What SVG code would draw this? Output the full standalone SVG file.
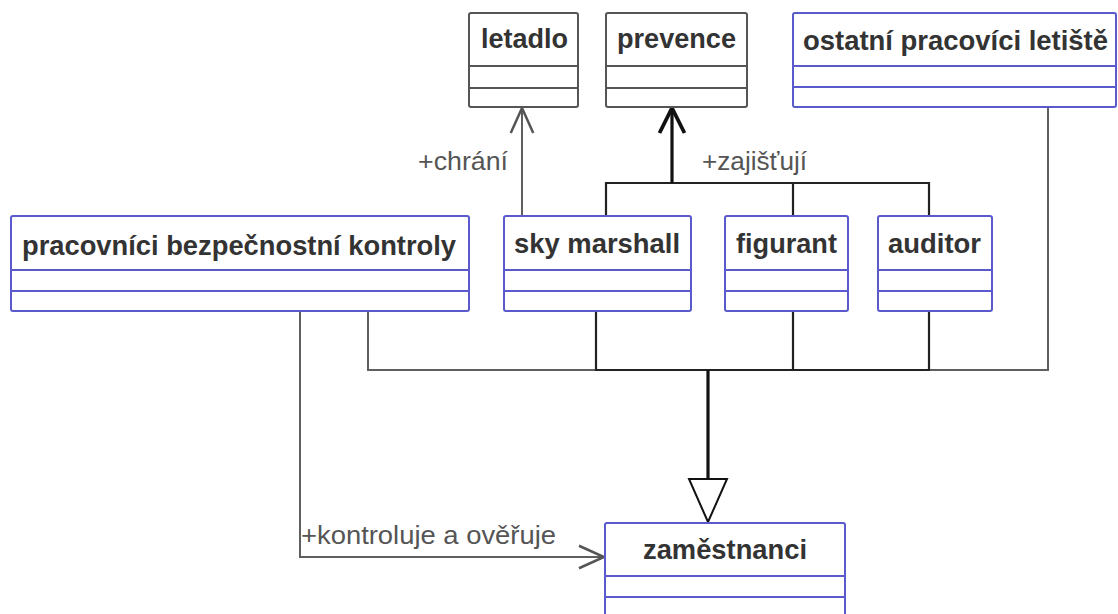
<svg xmlns="http://www.w3.org/2000/svg" width="1118" height="614" viewBox="0 0 1118 614">
  <style>
    .box { fill: #ffffff; stroke-width: 2; }
    .blue { stroke: #5a5acd; }
    .gray { stroke: #555555; }
    .sep { stroke-width: 2; fill: none; }
    .title { font-family: "Liberation Sans", Arial, sans-serif; font-weight: bold; font-size: 27px; fill: #333333; }
    .label { font-family: "Liberation Sans", Arial, sans-serif; font-size: 26px; fill: #555555; }
    .line { fill: none; stroke: #5f5f5f; stroke-width: 2; }
    .dark { fill: none; stroke: #222222; stroke-width: 2.2; }
    .thick { fill: none; stroke: #111111; stroke-width: 3.2; }
  </style>
  <defs>
    <marker id="open" markerUnits="userSpaceOnUse" markerWidth="30" markerHeight="30" viewBox="-22 -11 24 22" refX="0" refY="0" orient="auto">
      <path d="M -20 -9 L 0 0 L -20 9" fill="none" stroke="#555555" stroke-width="2"/>
    </marker>
    <marker id="openDark" markerUnits="userSpaceOnUse" markerWidth="30" markerHeight="30" viewBox="-22 -11 24 22" refX="0" refY="0" orient="auto">
      <path d="M -20 -10 L 0 0 L -20 10" fill="none" stroke="#111111" stroke-width="3"/>
    </marker>
  </defs>
  <rect width="1118" height="614" fill="#ffffff"/>

  <g id="connectors">
    <!-- letadlo association -->
    <path class="line" d="M 522 216 L 522 108" marker-end="url(#open)"/>
    <!-- prevence realizations -->
    <path class="dark" d="M 606 216 L 606 183 L 929 183 L 929 216"/>
    <path class="dark" d="M 793 183 L 793 216"/>
    <path class="thick" d="M 672 183 L 672 108" marker-end="url(#openDark)"/>
    <!-- employees generalization -->
    <path class="line" d="M 368 311 L 368 370 L 1048 370 L 1048 107"/>
    <path class="dark" d="M 596 311 L 596 370 L 929 370 L 929 311"/>
    <path class="dark" d="M 793 311 L 793 370"/>
    <path class="thick" d="M 708 370 L 708 479"/>
    <polygon points="689,479 727,479 708,522" fill="#ffffff" stroke="#111111" stroke-width="2"/>
    <!-- control association -->
    <path class="line" d="M 300 311 L 300 557 L 604 557" marker-end="url(#open)"/>
    <text class="label" x="418" y="170" textLength="90" lengthAdjust="spacingAndGlyphs">+chrání</text>
    <text class="label" x="702" y="170" textLength="105" lengthAdjust="spacingAndGlyphs">+zajišťují</text>
    <text class="label" x="301" y="544" textLength="255" lengthAdjust="spacingAndGlyphs">+kontroluje a ověřuje</text>
  </g>

  <g id="letadlo">
    <rect class="box gray" x="469" y="13" width="109" height="94" rx="2"/>
    <path class="sep gray" d="M 469 66 H 578 M 469 88 H 578"/>
    <text class="title" x="481" y="48" textLength="87" lengthAdjust="spacingAndGlyphs">letadlo</text>
  </g>

  <g id="prevence">
    <rect class="box gray" x="606" y="13" width="141" height="94" rx="2"/>
    <path class="sep gray" d="M 606 66 H 747 M 606 88 H 747"/>
    <text class="title" x="617" y="48" textLength="119" lengthAdjust="spacingAndGlyphs">prevence</text>
  </g>

  <g id="ostatni">
    <rect class="box blue" x="793" y="13" width="323" height="94" rx="2"/>
    <path class="sep blue" d="M 793 66 H 1116 M 793 87 H 1116"/>
    <text class="title" x="803" y="50" textLength="305" lengthAdjust="spacingAndGlyphs">ostatní pracovíci letiště</text>
  </g>

  <g id="pracovnici">
    <rect class="box blue" x="11" y="216" width="458" height="95" rx="2"/>
    <path class="sep blue" d="M 11 270 H 469 M 11 291 H 469"/>
    <text class="title" x="22" y="255" textLength="434" lengthAdjust="spacingAndGlyphs">pracovníci bezpečnostní kontroly</text>
  </g>

  <g id="skymarshall">
    <rect class="box blue" x="504" y="216" width="187" height="95" rx="2"/>
    <path class="sep blue" d="M 504 270 H 691 M 504 291 H 691"/>
    <text class="title" x="514" y="253" textLength="166" lengthAdjust="spacingAndGlyphs">sky marshall</text>
  </g>

  <g id="figurant">
    <rect class="box blue" x="725" y="216" width="123" height="95" rx="2"/>
    <path class="sep blue" d="M 725 270 H 848 M 725 291 H 848"/>
    <text class="title" x="736" y="253" textLength="101" lengthAdjust="spacingAndGlyphs">figurant</text>
  </g>

  <g id="auditor">
    <rect class="box blue" x="878" y="216" width="114" height="95" rx="2"/>
    <path class="sep blue" d="M 878 270 H 992 M 878 291 H 992"/>
    <text class="title" x="888" y="253" textLength="93" lengthAdjust="spacingAndGlyphs">auditor</text>
  </g>

  <g id="zamestnanci">
    <rect class="box blue" x="605" y="523" width="240" height="95" rx="2"/>
    <path class="sep blue" d="M 605 576 H 845 M 605 597 H 845"/>
    <text class="title" x="643" y="559" textLength="164" lengthAdjust="spacingAndGlyphs">zaměstnanci</text>
  </g>
</svg>
